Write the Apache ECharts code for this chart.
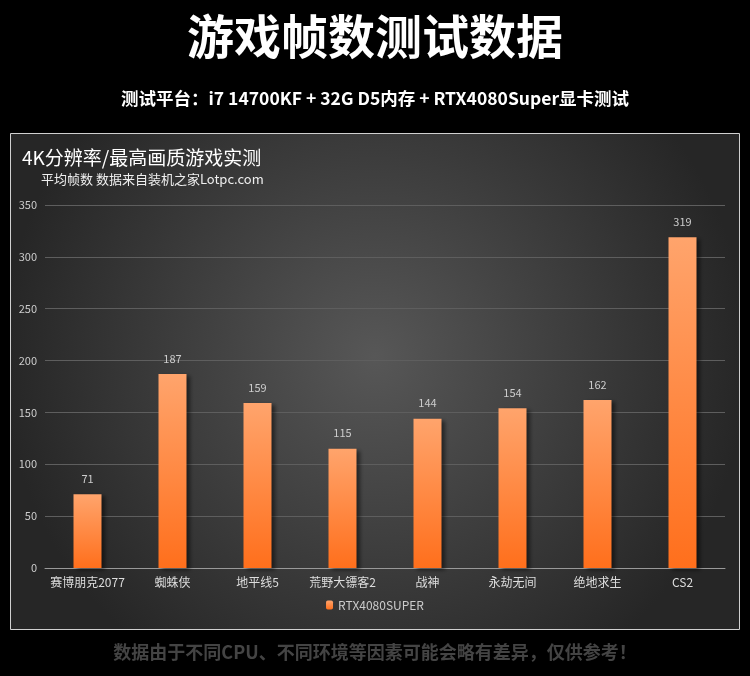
<!DOCTYPE html>
<html>
<head>
<meta charset="utf-8">
<script src="https://cdn.jsdelivr.net/npm/echarts@6/dist/echarts.min.js"></script>
<style>
html,body{margin:0;padding:0;background:#000;}
#main{width:750px;height:676px;}
</style>
</head>
<body>
<div id="main"></div>
<script>
var games = ['赛博朋克2077', '蜘蛛侠', '地平线5', '荒野大镖客2', '战神', '永劫无间', '绝地求生', 'CS2'];
var fps = [71, 187, 159, 115, 144, 154, 162, 319];
var yTicks = {min: 0, max: 350, interval: 50};
var seriesName = 'RTX4080SUPER';

var chart = echarts.init(document.getElementById('main'));
var font = '"Noto Sans CJK SC", "Microsoft YaHei", sans-serif';
chart.setOption({
  backgroundColor: '#000',
  textStyle: {fontFamily: font},
  graphic: [
    {
      type: 'rect', z: -10,
      shape: {x: 10.5, y: 133.5, width: 729, height: 496},
      style: {
        fill: new echarts.graphic.RadialGradient(0.5, 0.45, 0.75, [
          {offset: 0, color: '#575757'},
          {offset: 1, color: '#262626'}
        ]),
        stroke: '#d0d0d0', lineWidth: 1
      }
    },
    {type: 'text', left: 'center', top: 13,
      style: {text: '游戏帧数测试数据', fill: '#fff', font: 'bold 47px ' + font}},
    {type: 'text', left: 'center', top: 90,
      style: {text: '测试平台：i7 14700KF + 32G D5内存 + RTX4080Super显卡测试', fill: '#fff', font: 'bold 17.5px ' + font}},
    {type: 'text', left: 22, top: 148,
      style: {text: '4K分辨率/最高画质游戏实测', fill: '#fff', font: '19px ' + font}},
    {type: 'text', left: 41, top: 173,
      style: {text: '平均帧数 数据来自装机之家Lotpc.com', fill: '#eee', font: '13px ' + font}},
    {type: 'text', left: 'center', top: 643,
      style: {text: '数据由于不同CPU、不同环境等因素可能会略有差异，仅供参考！', fill: '#444', font: 'bold 18px ' + font}}
  ],
  legend: {
    bottom: 60, itemWidth: 7, itemHeight: 9,
    textStyle: {color: '#ccc', fontSize: 12},
    data: [seriesName]
  },
  grid: {left: 45, right: 25, top: 205, bottom: 108},
  xAxis: {
    type: 'category', data: games,
    axisLine: {lineStyle: {color: '#999'}},
    axisTick: {show: false},
    axisLabel: {color: '#ddd', fontSize: 12, margin: 8, interval: 0}
  },
  yAxis: {
    type: 'value', min: yTicks.min, max: yTicks.max, interval: yTicks.interval,
    axisLine: {show: false}, axisTick: {show: false},
    axisLabel: {color: '#ccc', fontSize: 11, margin: 8},
    splitLine: {lineStyle: {color: '#5e5e5e'}}
  },
  series: [{
    name: seriesName, type: 'bar', data: fps, barWidth: 28,
    itemStyle: {
      color: new echarts.graphic.LinearGradient(0, 0, 0, 1, [
        {offset: 0, color: '#ffa46c'},
        {offset: 1, color: '#ff6f1c'}
      ]),
      shadowColor: 'rgba(0,0,0,0.5)', shadowBlur: 4, shadowOffsetX: 3, shadowOffsetY: 2
    },
    label: {show: true, position: 'top', distance: 10, color: '#ccc', fontSize: 11}
  }]
});
</script>
</body>
</html>
